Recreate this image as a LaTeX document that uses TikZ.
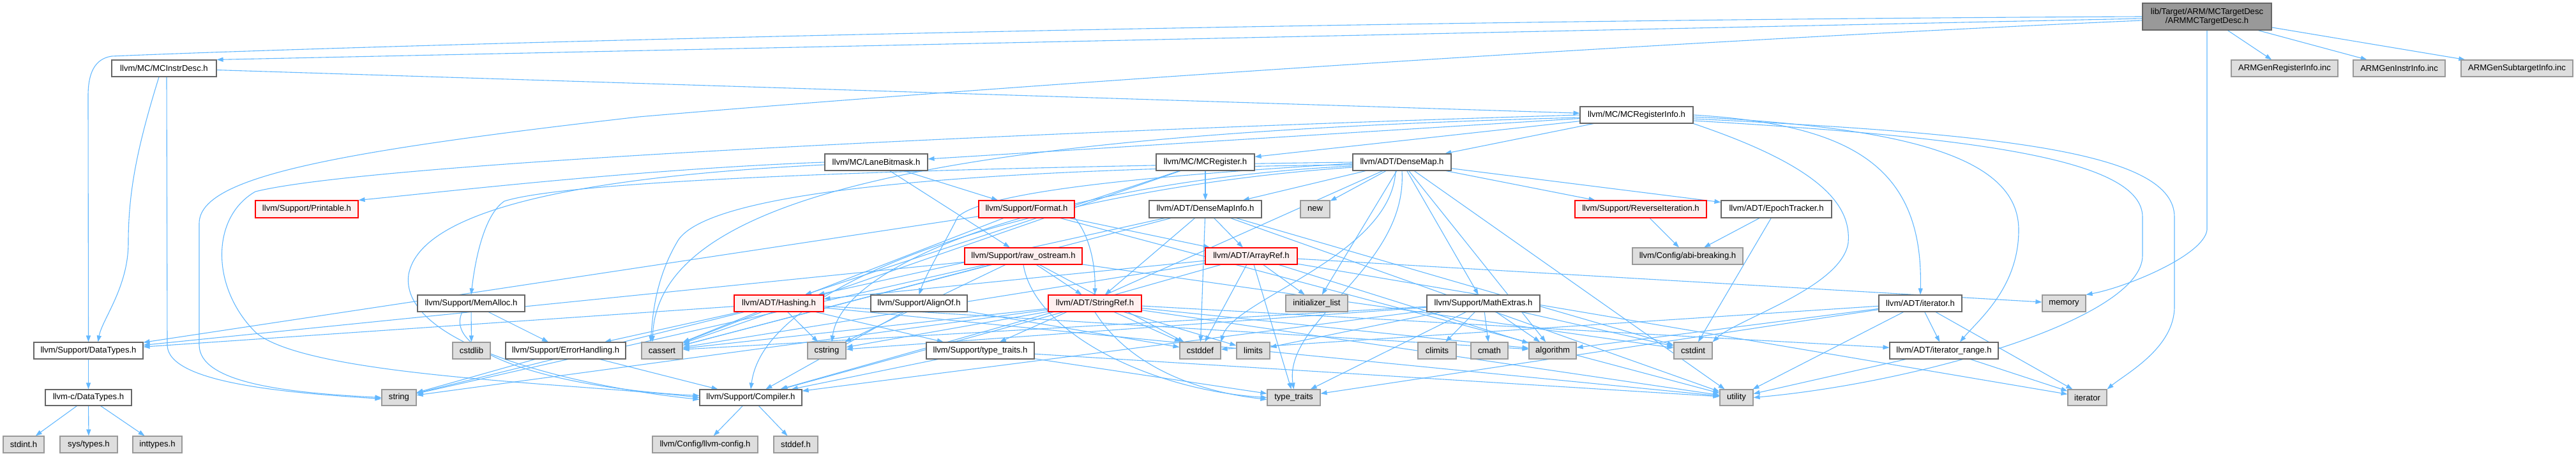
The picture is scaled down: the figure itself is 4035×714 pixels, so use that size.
\documentclass[tikz,border=0pt]{standalone}
\usepackage{fontspec}
\setmainfont{Liberation Sans}
\usetikzlibrary{arrows.meta,backgrounds}
\definecolor{edgec}{HTML}{63B8FF}
\definecolor{bwhite}{HTML}{666666}
\definecolor{ggray}{HTML}{DEDEDE}
\definecolor{ggrayb}{HTML}{999999}
\definecolor{rfill}{HTML}{FFF0F0}
\tikzset{
  base/.style={rectangle,inner sep=2pt,line width=1.1pt,font=\fontsize{13.1}{14.5}\selectfont,align=center},
  wbox/.style={base,draw=bwhite,fill=white},
  gbox/.style={base,draw=ggrayb,fill=ggray},
  rbox/.style={base,draw=red,fill=rfill},
  root/.style={base,draw=bwhite,fill=ggrayb},
  lnk/.style={draw=edgec,line width=1.1pt,-{Triangle[length=10pt,width=7pt]}}
}
\newcommand\mknode[7]{\node[#6,minimum width=#3pt-#2pt,minimum height=#5pt-#4pt] (#1) at ({(#2+#3)/2},{(#4+#5)/2}) {#7};}
\newcommand\ed[2]{\draw[lnk] (#1) -- (#2);}
\begin{document}
\begin{tikzpicture}[x=1pt,y=-1pt]
\useasboundingbox (0,0) rectangle (4035,714);
\mknode{ARM}{3356}{3558}{5}{47}{root}{lib/Target/ARM/MCTargetDesc\\/ARMMCTargetDesc.h}
\mknode{RegInc}{3495}{3662}{94}{120}{gbox}{ARMGenRegisterInfo.inc}
\mknode{InstrInc}{3686}{3830}{94}{120}{gbox}{ARMGenInstrInfo.inc}
\mknode{SubInc}{3855}{4030}{94}{120}{gbox}{ARMGenSubtargetInfo.inc}
\mknode{MCInstrDesc}{175}{339}{94}{120}{wbox}{llvm/MC/MCInstrDesc.h}
\mknode{MCRegInfo}{2475}{2652}{167}{193}{wbox}{llvm/MC/MCRegisterInfo.h}
\mknode{LaneBitmask}{1292}{1453}{241}{267}{wbox}{llvm/MC/LaneBitmask.h}
\mknode{MCRegister}{1811}{1965}{241}{267}{wbox}{llvm/MC/MCRegister.h}
\mknode{DenseMap}{2119}{2273}{241}{267}{wbox}{llvm/ADT/DenseMap.h}
\mknode{Printable}{400}{561}{314}{341}{rbox}{llvm/Support/Printable.h}
\mknode{Format}{1533}{1683}{314}{341}{rbox}{llvm/Support/Format.h}
\mknode{DenseMapInfo}{1800}{1976}{314}{341}{wbox}{llvm/ADT/DenseMapInfo.h}
\mknode{new}{2037}{2083}{314}{341}{gbox}{new}
\mknode{RevIter}{2467}{2673}{314}{341}{rbox}{llvm/Support/ReverseIteration.h}
\mknode{Epoch}{2696}{2869}{314}{341}{wbox}{llvm/ADT/EpochTracker.h}
\mknode{rawostream}{1511}{1695}{388}{414}{rbox}{llvm/Support/raw\_ostream.h}
\mknode{ArrayRef}{1888}{2032}{388}{414}{rbox}{llvm/ADT/ArrayRef.h}
\mknode{abi}{2557}{2730}{388}{414}{gbox}{llvm/Config/abi-breaking.h}
\mknode{MemAlloc}{654}{822}{462}{488}{wbox}{llvm/Support/MemAlloc.h}
\mknode{Hashing}{1150}{1290}{462}{488}{rbox}{llvm/ADT/Hashing.h}
\mknode{AlignOf}{1364}{1515}{462}{488}{wbox}{llvm/Support/AlignOf.h}
\mknode{StringRef}{1642}{1788}{462}{488}{rbox}{llvm/ADT/StringRef.h}
\mknode{initlist}{2014}{2111}{462}{488}{gbox}{initializer\_list}
\mknode{MathExtras}{2235}{2412}{462}{488}{wbox}{llvm/Support/MathExtras.h}
\mknode{iteratorh}{2943}{3073}{462}{488}{wbox}{llvm/ADT/iterator.h}
\mknode{memory}{3199}{3267}{462}{488}{gbox}{memory}
\mknode{DataTypes}{53}{224}{536}{562}{wbox}{llvm/Support/DataTypes.h}
\mknode{cstdlib}{709}{768}{536}{562}{gbox}{cstdlib}
\mknode{ErrorHandling}{792}{980}{536}{562}{wbox}{llvm/Support/ErrorHandling.h}
\mknode{cassert}{1005}{1069}{536}{562}{gbox}{cassert}
\mknode{cstring}{1265}{1325}{536}{562}{gbox}{cstring}
\mknode{typetraitsh}{1451}{1620}{536}{562}{wbox}{llvm/Support/type\_traits.h}
\mknode{cstddef}{1848}{1912}{536}{562}{gbox}{cstddef}
\mknode{limits}{1937}{1989}{536}{562}{gbox}{limits}
\mknode{climits}{2221}{2281}{536}{562}{gbox}{climits}
\mknode{cmath}{2304}{2362}{536}{562}{gbox}{cmath}
\mknode{algorithm}{2395}{2469}{536}{562}{gbox}{algorithm}
\mknode{cstdint}{2622}{2682}{536}{562}{gbox}{cstdint}
\mknode{iterrange}{2960}{3130}{536}{562}{wbox}{llvm/ADT/iterator\_range.h}
\mknode{cDataTypes}{71}{206}{610}{635}{wbox}{llvm-c/DataTypes.h}
\mknode{string}{598}{652}{610}{635}{gbox}{string}
\mknode{Compiler}{1096}{1256}{610}{635}{wbox}{llvm/Support/Compiler.h}
\mknode{typetraits}{1985}{2068}{610}{635}{gbox}{type\_traits}
\mknode{utility}{2694}{2746}{610}{635}{gbox}{utility}
\mknode{iterator}{3239}{3300}{610}{635}{gbox}{iterator}
\mknode{stdint}{5}{69}{683}{709}{gbox}{stdint.h}
\mknode{systypes}{94}{184}{683}{709}{gbox}{sys/types.h}
\mknode{inttypes}{208}{285}{683}{709}{gbox}{inttypes.h}
\mknode{llvmconfig}{1022}{1187}{683}{709}{gbox}{llvm/Config/llvm-config.h}
\mknode{stddef}{1212}{1281}{683}{709}{gbox}{stddef.h}
\begin{scope}[on background layer]
% ARM
\draw[lnk] (ARM.west) .. controls (2000,32) and (600,70) .. (175,88) .. controls (148,92) and (138,115) .. (138,150) -- (DataTypes.north);
\draw[lnk] ([yshift=-3pt]ARM.west) -- (MCInstrDesc.north east);
\draw[lnk] ([yshift=-6pt]ARM.west) .. controls (2500,70) and (1500,140) .. (1000,183) .. controls (500,240) and (312,280) .. (312,350) -- (312,540) .. controls (312,600) and (450,615) .. (string.west);
\draw[lnk] (ARM.south) -- (3457,360) .. controls (3452,400) and (3330,450) .. (memory.north east);
\ed{ARM}{RegInc} \ed{ARM}{InstrInc} \ed{ARM}{SubInc}
% MCInstrDesc
\ed{MCInstrDesc}{MCRegInfo}
\draw[lnk] ([xshift=-8pt]MCInstrDesc.south) .. controls (215,230) and (201,300) .. (201,380) .. controls (201,450) and (160,500) .. ([xshift=15pt]DataTypes.north);
\draw[lnk] ([xshift=4pt]MCInstrDesc.south) -- (262,540) .. controls (262,600) and (450,615) .. ([yshift=-2pt]string.west);
% MCRegInfo
\ed{MCRegInfo}{DenseMap} \ed{MCRegInfo}{LaneBitmask} \ed{MCRegInfo}{MCRegister}
\draw[lnk] (MCRegInfo.east) .. controls (2900,195) and (3013,260) .. (iteratorh.north);
\draw[lnk] ([yshift=-3pt]MCRegInfo.east) .. controls (3000,200) and (3162,250) .. (3162,360) .. controls (3162,450) and (3100,500) .. ([xshift=25pt]iterrange.north);
\draw[lnk] ([yshift=-6pt]MCRegInfo.east) .. controls (3150,210) and (3406,240) .. (3406,340) -- (3406,480) .. controls (3406,545) and (3330,585) .. (iterator.north east);
\draw[lnk] ([yshift=-9pt]MCRegInfo.east) .. controls (3100,215) and (3356,250) .. (3356,340) -- (3356,400) .. controls (3356,500) and (3000,600) .. (utility.east);
\draw[lnk] (MCRegInfo.south east) .. controls (2850,260) and (2900,320) .. (2895,380) .. controls (2885,450) and (2720,500) .. (cstdint.north east);
\draw[lnk] (MCRegInfo.west) .. controls (1800,200) and (600,250) .. (400,300) .. controls (330,340) and (330,450) .. (400,520) .. controls (480,590) and (900,600) .. (Compiler.west);
\draw[lnk] ([yshift=-4pt]MCRegInfo.west) .. controls (1500,210) and (1030,300) .. ([xshift=-15pt]cassert.north);
% LaneBitmask
\ed{LaneBitmask}{Format} \ed{LaneBitmask}{rawostream}
\draw[lnk] (LaneBitmask.west) .. controls (1000,265) and (700,300) .. (Printable.north east);
\draw[lnk] ([yshift=-4pt]LaneBitmask.west) .. controls (950,275) and (660,320) .. (640,430) .. controls (625,540) and (900,605) .. ([yshift=-3pt]Compiler.west);
% MCRegister
\ed{MCRegister}{DenseMapInfo} \ed{MCRegister}{Hashing} \ed{MCRegister}{cassert}
% DenseMap
\ed{DenseMap}{DenseMapInfo} \ed{DenseMap}{Epoch} \ed{DenseMap}{RevIter} \ed{DenseMap}{new}
\ed{DenseMap}{initlist} \ed{DenseMap}{MathExtras} \ed{DenseMap}{algorithm} \ed{DenseMap}{utility}
\ed{DenseMap}{typetraitsh}
\draw[lnk] (DenseMap.south) .. controls (2205,420) and (2010,500) .. (typetraits.north);
\draw[lnk] ([xshift=-10pt]DenseMap.south) .. controls (2180,400) and (1930,470) .. (cstddef.north east);
\draw[lnk] (DenseMap.west) .. controls (1500,262) and (900,280) .. (790,315) .. controls (760,335) and (745,400) .. (MemAlloc.north);
\draw[lnk] ([yshift=-2pt]DenseMap.west) .. controls (1800,275) and (1540,300) .. (1500,340) .. controls (1480,380) and (1450,430) .. (AlignOf.north);
\draw[lnk] ([yshift=-4pt]DenseMap.west) .. controls (1500,265) and (1100,300) .. (1060,380) .. controls (1025,440) and (1022,500) .. ([xshift=-18pt]cassert.north);
\draw[lnk] ([yshift=-6pt]DenseMap.west) .. controls (1700,280) and (1320,400) .. ([xshift=8pt]cstring.north);
\draw[lnk] ([yshift=-8pt]DenseMap.west) .. controls (1700,290) and (1200,420) .. (Compiler.north);
% DenseMapInfo
\ed{DenseMapInfo}{ArrayRef} \ed{DenseMapInfo}{Hashing} \ed{DenseMapInfo}{StringRef} \ed{DenseMapInfo}{cstddef}
\ed{DenseMapInfo}{cassert} \ed{DenseMapInfo}{cstdint} \ed{DenseMapInfo}{utility}
% Format
\ed{Format}{ArrayRef} \ed{Format}{DataTypes} \ed{Format}{cassert} \ed{Format}{utility}
\draw[lnk] (Format.south east) .. controls (1700,360) and (1716,400) .. (StringRef.north);
% raw_ostream
\ed{rawostream}{StringRef} \ed{rawostream}{DataTypes} \ed{rawostream}{cassert} \ed{rawostream}{cstddef}
\ed{rawostream}{cstdint} \ed{rawostream}{cstring} \ed{rawostream}{string}
\draw[lnk] (rawostream.south) .. controls (1620,520) and (1800,610) .. (typetraits.west);
% ArrayRef
\ed{ArrayRef}{Hashing} \ed{ArrayRef}{Compiler} \ed{ArrayRef}{algorithm} \ed{ArrayRef}{cassert} \ed{ArrayRef}{cstddef}
\ed{ArrayRef}{initlist} \ed{ArrayRef}{iterator} \ed{ArrayRef}{memory} \ed{ArrayRef}{typetraits}
% Hashing
\ed{Hashing}{DataTypes} \ed{Hashing}{ErrorHandling} \ed{Hashing}{typetraitsh} \ed{Hashing}{algorithm}
\ed{Hashing}{cassert} \ed{Hashing}{cstring} \ed{Hashing}{string} \ed{Hashing}{utility}
% AlignOf
\ed{AlignOf}{Compiler} \ed{AlignOf}{cstddef}
% StringRef
\ed{StringRef}{iterrange} \ed{StringRef}{Compiler} \ed{StringRef}{algorithm} \ed{StringRef}{cassert} \ed{StringRef}{cstddef}
\ed{StringRef}{cstring} \ed{StringRef}{limits} \ed{StringRef}{string} \ed{StringRef}{utility}
\draw[lnk] (StringRef.south) .. controls (1760,560) and (1850,610) .. ([yshift=-3pt]typetraits.west);
% MathExtras
\ed{MathExtras}{Compiler} \ed{MathExtras}{algorithm} \ed{MathExtras}{cassert} \ed{MathExtras}{climits} \ed{MathExtras}{cmath}
\ed{MathExtras}{cstdint} \ed{MathExtras}{cstring} \ed{MathExtras}{limits} \ed{MathExtras}{typetraits}
% MemAlloc
\ed{MemAlloc}{cstdlib} \ed{MemAlloc}{ErrorHandling}
\draw[lnk] ([xshift=-14pt]MemAlloc.south) .. controls (690,560) and (900,610) .. ([yshift=3pt]Compiler.west);
% ErrorHandling
\ed{ErrorHandling}{string} \ed{ErrorHandling}{Compiler}
% type_traits.h
\ed{typetraitsh}{Compiler} \ed{typetraitsh}{typetraits} \ed{typetraitsh}{utility}
% leaves
\ed{Compiler}{llvmconfig} \ed{Compiler}{stddef}
\ed{DataTypes}{cDataTypes}
\ed{cDataTypes}{stdint} \ed{cDataTypes}{systypes} \ed{cDataTypes}{inttypes}
\ed{RevIter}{abi} \ed{Epoch}{abi} \ed{Epoch}{cstdint}
\ed{iteratorh}{iterrange} \ed{iteratorh}{algorithm} \ed{iteratorh}{cstddef} \ed{iteratorh}{iterator}
\ed{iteratorh}{typetraits} \ed{iteratorh}{utility}
\ed{iterrange}{iterator} \ed{iterrange}{utility}
\end{scope}
\end{tikzpicture}
\end{document}
